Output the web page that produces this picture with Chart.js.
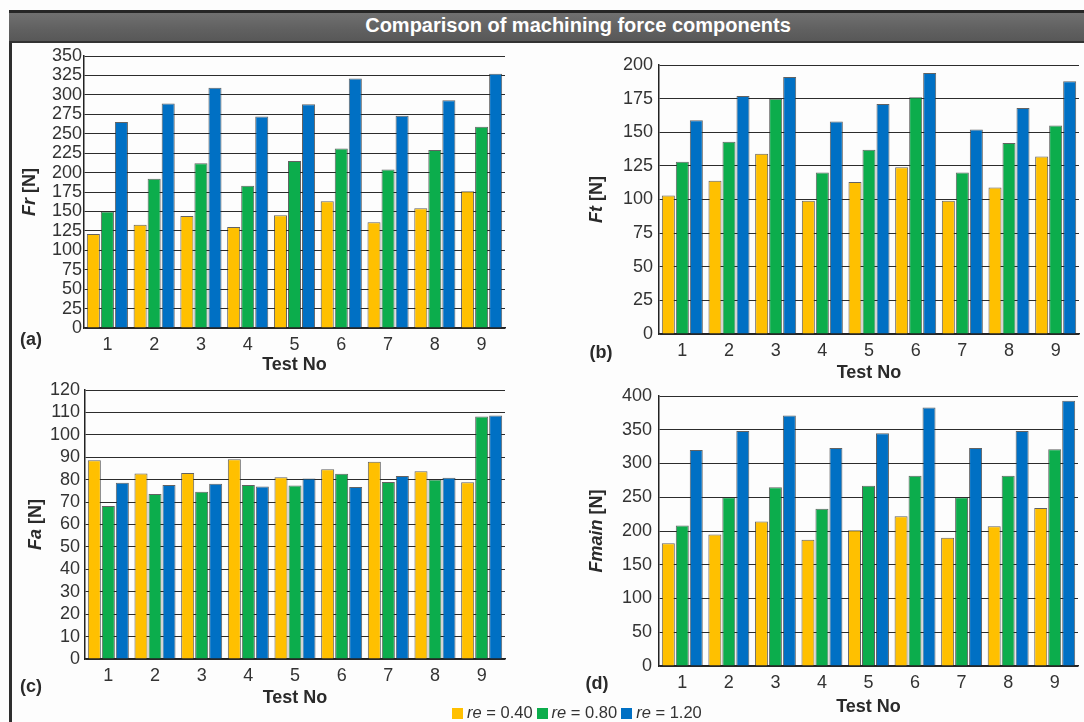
<!DOCTYPE html>
<html>
<head>
<meta charset="utf-8">
<title>Comparison of machining force components</title>
<script src="https://cdn.jsdelivr.net/npm/chart.js@4.4.0/dist/chart.umd.min.js"></script>
<style>
  html, body { margin: 0; padding: 0; }
  body {
    width: 1084px; height: 722px; overflow: hidden; position: relative;
    background: #fdfdfd;
    font-family: "Liberation Sans", Arial, sans-serif;
  }
  #frameLeft {
    position: absolute; left: 9px; top: 10px; width: 3px; height: 712px; background: #2e2e2e;
  }
  #titleBar {
    position: absolute; left: 9px; top: 10px; width: 1075px; height: 28px;
    border-top: 3px solid #262626; border-bottom: 2px solid #333;
    background: linear-gradient(#707070, #606060 60%, #585858);
  }
  #titleText {
    position: absolute; left: 578px; top: 12px; transform: translateX(-50%);
    color: #fff; font-weight: bold; font-size: 20px; line-height: 26px; white-space: nowrap;
  }
  canvas { position: absolute; }
  #legend {
    position: absolute; left: 452px; top: 703px; height: 18px;
    font-size: 16.5px; color: #333; white-space: nowrap; line-height: 18px;
  }
  #legend .item { display: inline-block; margin-right: 4px; }
  #legend .swatch {
    display: inline-block; width: 11px; height: 11px; margin-right: 4px; vertical-align: -1px;
  }
</style>
</head>
<body>
<div id="frameLeft"></div>
<div id="titleBar"></div>
<div id="titleText">Comparison of machining force components</div>
<canvas id="chartFr" width="530" height="338" style="left:10px; top:42px;"></canvas>
<canvas id="chartFt" width="544" height="338" style="left:540px; top:42px;"></canvas>
<canvas id="chartFa" width="530" height="346" style="left:10px; top:376px;"></canvas>
<canvas id="chartFmain" width="544" height="342" style="left:540px; top:380px;"></canvas>
<div id="legend"></div>

<script>
// Test numbers and nose radius values
const testNo = ['1', '2', '3', '4', '5', '6', '7', '8', '9'];
const noseRadius = ['0.40', '0.80', '1.20'];
const seriesColors = ['#FFC000', '#0CAD4C', '#0070C4'];

// Radial force Fr [N]
const frR040 = [121, 133, 144, 130, 145, 163, 136, 154, 176];
const frR080 = [150, 192, 212, 183, 215, 231, 204, 229, 259];
const frR120 = [265, 289, 309, 272, 288, 321, 273, 293, 327];

// Tangential force Ft [N]
const ftR040 = [103, 114, 134, 99, 113, 124, 99, 109, 132];
const ftR080 = [128, 143, 175, 120, 137, 176, 120, 142, 155];
const ftR120 = [159, 177, 191, 158, 171, 194, 152, 168, 188];

// Axial force Fa [N]
const faR040 = [88.7, 82.8, 83.0, 89.1, 81.1, 84.7, 88.0, 83.8, 78.8];
const faR080 = [68.3, 73.6, 74.6, 77.6, 77.4, 82.6, 79.0, 80.1, 108.2];
const faR120 = [78.6, 77.6, 78.2, 77.0, 80.5, 76.7, 81.6, 80.8, 108.6];

// Resultant force Fmain [N]
const fmainR040 = [182, 195, 214, 187, 201, 222, 190, 207, 234];
const fmainR080 = [208, 250, 265, 233, 267, 282, 250, 282, 321];
const fmainR120 = [320, 348, 371, 323, 345, 383, 323, 348, 393];

// Value axis ticks: [min, max, step]
const frTicks = [0, 350, 25];
const ftTicks = [0, 200, 25];
const faTicks = [0, 120, 10];
const fmainTicks = [0, 400, 50];

const FONT = '"Liberation Sans", Arial, sans-serif';

// Draws the rotated y-axis caption (italic symbol + unit), the panel tag and the x-axis caption
const captionPlugin = {
  id: 'panelCaptions',
  afterDraw(chart, args, o) {
    const ctx = chart.ctx;
    const a = chart.chartArea;
    const f = (italic) => (italic ? 'italic ' : '') + 'bold 18px ' + FONT;
    ctx.save();
    ctx.fillStyle = '#2a2a2a';
    ctx.textBaseline = 'middle';

    // y-axis caption
    ctx.save();
    ctx.font = f(true);
    const w1 = ctx.measureText(o.symbol).width;
    ctx.font = f(false);
    const w2 = ctx.measureText(' [N]').width;
    ctx.translate(a.left - o.titleDx, (a.top + a.bottom) / 2);
    ctx.rotate(-Math.PI / 2);
    ctx.textAlign = 'left';
    const x0 = -(w1 + w2) / 2;
    ctx.font = f(true);
    ctx.fillText(o.symbol, x0, 0);
    ctx.font = f(false);
    ctx.fillText(' [N]', x0 + w1, 0);
    ctx.restore();

    // panel tag
    ctx.font = f(false);
    ctx.textAlign = 'center';
    ctx.fillText(o.tag, a.left - o.tagDx, a.bottom + o.tagDy);

    // x-axis caption
    ctx.fillText('Test No', (a.left + a.right) / 2, a.bottom + o.xTitleDy);
    ctx.restore();
  }
};

function makePanel(canvasId, box, plot, ticks, values, caption) {
  const datasets = values.map((v, i) => ({
    label: 're = ' + noseRadius[i],
    data: v,
    backgroundColor: seriesColors[i],
    borderColor: 'rgba(45,45,45,0.75)',
    borderWidth: 1,
    categoryPercentage: 0.9,
    barPercentage: 0.93
  }));
  return new Chart(document.getElementById(canvasId), {
    type: 'bar',
    data: { labels: testNo, datasets },
    plugins: [captionPlugin],
    options: {
      responsive: false,
      animation: false,
      events: [],
      layout: {
        padding: { left: 0, bottom: 0, top: plot.top - box.y, right: box.x + box.w - plot.right }
      },
      plugins: {
        legend: { display: false },
        tooltip: { enabled: false },
        panelCaptions: caption
      },
      scales: {
        x: {
          grid: { display: false, drawTicks: false },
          border: { display: true, color: '#222', width: 1.5 },
          ticks: { color: '#333', padding: 8, font: { family: FONT, size: 18, lineHeight: 1 } },
          afterFit: (s) => { s.height = box.y + box.h - plot.bottom; }
        },
        y: {
          min: ticks[0],
          max: ticks[1],
          grid: { color: '#2c2c2c', lineWidth: 1, drawTicks: false },
          border: { display: true, color: '#222', width: 1.5 },
          ticks: {
            stepSize: ticks[2], autoSkip: false, padding: caption.yPad, color: '#333',
            font: { family: FONT, size: 18, lineHeight: 1 }
          },
          afterFit: (s) => { s.width = plot.left - box.x; }
        }
      }
    }
  });
}

makePanel('chartFr',
  { x: 10, y: 42, w: 530, h: 338 },
  { left: 84, top: 56, right: 505, bottom: 328 },
  frTicks, [frR040, frR080, frR120],
  { symbol: 'Fr', tag: '(a)', titleDx: 54, tagDx: 53, tagDy: 12, xTitleDy: 37, yPad: 2 });

makePanel('chartFt',
  { x: 540, y: 42, w: 544, h: 338 },
  { left: 659, top: 65, right: 1079, bottom: 334 },
  ftTicks, [ftR040, ftR080, ftR120],
  { symbol: 'Ft', tag: '(b)', titleDx: 62, tagDx: 58, tagDy: 19, xTitleDy: 39, yPad: 6 });

makePanel('chartFa',
  { x: 10, y: 376, w: 530, h: 346 },
  { left: 85, top: 389, right: 505, bottom: 659 },
  faTicks, [faR040, faR080, faR120],
  { symbol: 'Fa', tag: '(c)', titleDx: 49, tagDx: 54, tagDy: 28, xTitleDy: 39, yPad: 5 });

makePanel('chartFmain',
  { x: 540, y: 380, w: 544, h: 342 },
  { left: 659, top: 396, right: 1078, bottom: 666 },
  fmainTicks, [fmainR040, fmainR080, fmainR120],
  { symbol: 'Fmain', tag: '(d)', titleDx: 62, tagDx: 62, tagDy: 18, xTitleDy: 41, yPad: 7 });

// Shared legend for the nose radius series
const legend = document.getElementById('legend');
noseRadius.forEach((r, i) => {
  const item = document.createElement('span');
  item.className = 'item';
  item.innerHTML = '<span class="swatch" style="background:' + seriesColors[i] + '"></span>' +
    '<i>re</i> = ' + r;
  legend.appendChild(item);
});
</script>
</body>
</html>
